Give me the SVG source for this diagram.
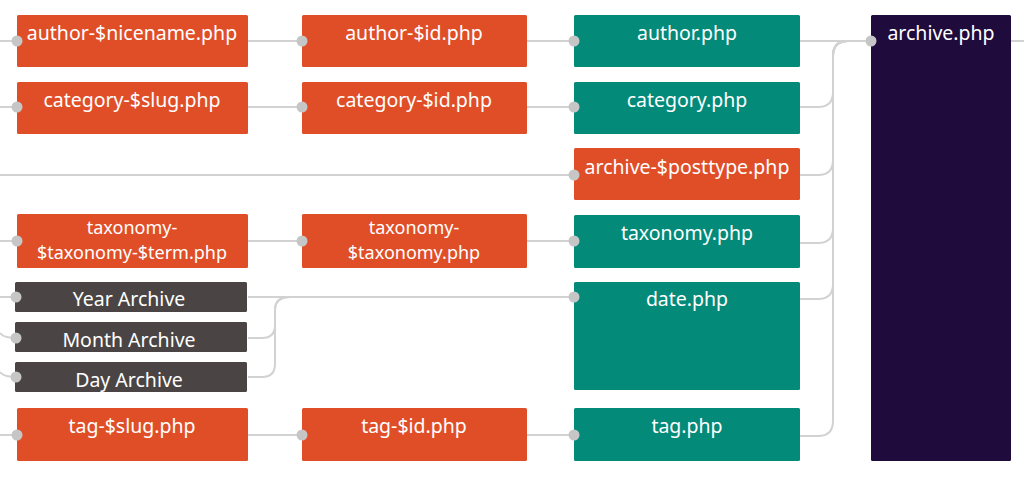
<svg xmlns="http://www.w3.org/2000/svg" width="1024" height="477" viewBox="0 0 1024 477">
<style>
.or{fill:#e04e28}
.te{fill:#038a79}
.gr{fill:#4a4544}
.pu{fill:#200b3d}
text{font-family:"Noto Sans","Open Sans",sans-serif;font-size:19.5px;fill:#ffffff;text-anchor:middle}
text.two{font-size:18px}
.c{fill:none;stroke:#d2d2d2;stroke-width:2}
.dot{fill:#c6c6c6}
</style>
<rect width="1024" height="477" fill="#ffffff"/>
<g id="connectors">
<path class="c" d="M0,41 H17 M248,41 H302 M527,41 H574 M800,41 H871 M1011,41 H1024"/>
<path class="c" d="M0,107 H17 M248,107 H302 M527,107 H574"/>
<path class="c" d="M0,175 H574"/>
<path class="c" d="M0,241 H17 M248,241 H302 M527,241 H574"/>
<path class="c" d="M0,297 H17 M248,297 H574"/>
<path class="c" d="M0,333 Q4,338 17,338 M0,372 Q4,377 17,377"/>
<path class="c" d="M248,338 H262 Q275,338 275,325 V310 Q275,297 290,297 H300"/>
<path class="c" d="M248,377 H262 Q275,377 275,364 V310 Q275,297 290,297 H300"/>
<path class="c" d="M0,435 H17 M248,435 H302 M527,435 H574"/>
<path class="c" d="M800,107 H818 Q833,107 833,92 V56 Q833,41 848,41 H871"/>
<path class="c" d="M800,175 H818 Q833,175 833,160 V56 Q833,41 848,41 H871"/>
<path class="c" d="M800,243 H818 Q833,243 833,228 V56 Q833,41 848,41 H871"/>
<path class="c" d="M800,299 H818 Q833,299 833,284 V56 Q833,41 848,41 H871"/>
<path class="c" d="M800,436 H818 Q833,436 833,421 V56 Q833,41 848,41 H871"/>
</g>
<g id="n-author-nicename"><rect class="or" x="17" y="15" width="231" height="52" rx="1.5"/><circle class="dot" cx="17" cy="41" r="5.5"/><text x="132" y="40">author-$nicename.php</text></g>
<g id="n-author-id"><rect class="or" x="302" y="15" width="225" height="52" rx="1.5"/><circle class="dot" cx="302" cy="41" r="5.5"/><text x="414" y="40">author-$id.php</text></g>
<g id="n-author"><rect class="te" x="574" y="15" width="226" height="52" rx="1.5"/><circle class="dot" cx="574" cy="41" r="5.5"/><text x="687" y="40">author.php</text></g>
<g id="n-archive"><rect class="pu" x="871" y="15" width="140" height="446" rx="1.5"/><circle class="dot" cx="871" cy="41" r="5.5"/><text x="941" y="40">archive.php</text></g>
<g id="n-category-slug"><rect class="or" x="17" y="82" width="231" height="52" rx="1.5"/><circle class="dot" cx="17" cy="107" r="5.5"/><text x="132" y="107">category-$slug.php</text></g>
<g id="n-category-id"><rect class="or" x="302" y="82" width="225" height="52" rx="1.5"/><circle class="dot" cx="302" cy="107" r="5.5"/><text x="414" y="107">category-$id.php</text></g>
<g id="n-category"><rect class="te" x="574" y="82" width="226" height="52" rx="1.5"/><circle class="dot" cx="574" cy="107" r="5.5"/><text x="687" y="107">category.php</text></g>
<g id="n-archive-posttype"><rect class="or" x="574" y="148" width="226" height="52" rx="1.5"/><circle class="dot" cx="574" cy="175" r="5.5"/><text x="687" y="174">archive-$posttype.php</text></g>
<g id="n-taxonomy-term"><rect class="or" x="17" y="214" width="231" height="54" rx="1.5"/><circle class="dot" cx="17" cy="241" r="5.5"/><text class="two" x="132" y="234">taxonomy-<tspan x="132" y="258.6">$taxonomy-$term.php</tspan></text></g>
<g id="n-taxonomy-tax"><rect class="or" x="302" y="214" width="225" height="54" rx="1.5"/><circle class="dot" cx="302" cy="241" r="5.5"/><text class="two" x="414" y="234">taxonomy-<tspan x="414" y="258.6">$taxonomy.php</tspan></text></g>
<g id="n-taxonomy"><rect class="te" x="574" y="215" width="226" height="53" rx="1.5"/><circle class="dot" cx="574" cy="241" r="5.5"/><text x="687" y="240">taxonomy.php</text></g>
<g id="n-year"><rect class="gr" x="15" y="282" width="232" height="30" rx="1.5"/><circle class="dot" cx="16" cy="297" r="5.5"/><text x="129" y="306">Year Archive</text></g>
<g id="n-month"><rect class="gr" x="15" y="322" width="232" height="30" rx="1.5"/><circle class="dot" cx="16" cy="338" r="5.5"/><text x="129" y="347">Month Archive</text></g>
<g id="n-day"><rect class="gr" x="15" y="362" width="232" height="30" rx="1.5"/><circle class="dot" cx="16" cy="377" r="5.5"/><text x="129" y="387">Day Archive</text></g>
<g id="n-date"><rect class="te" x="574" y="282" width="226" height="108" rx="1.5"/><circle class="dot" cx="574" cy="297" r="5.5"/><text x="687" y="306">date.php</text></g>
<g id="n-tag-slug"><rect class="or" x="17" y="408" width="231" height="53" rx="1.5"/><circle class="dot" cx="17" cy="435" r="5.5"/><text x="132" y="433">tag-$slug.php</text></g>
<g id="n-tag-id"><rect class="or" x="302" y="408" width="225" height="53" rx="1.5"/><circle class="dot" cx="302" cy="435" r="5.5"/><text x="414" y="433">tag-$id.php</text></g>
<g id="n-tag"><rect class="te" x="574" y="408" width="226" height="53" rx="1.5"/><circle class="dot" cx="574" cy="435" r="5.5"/><text x="687" y="433">tag.php</text></g>
</svg>
